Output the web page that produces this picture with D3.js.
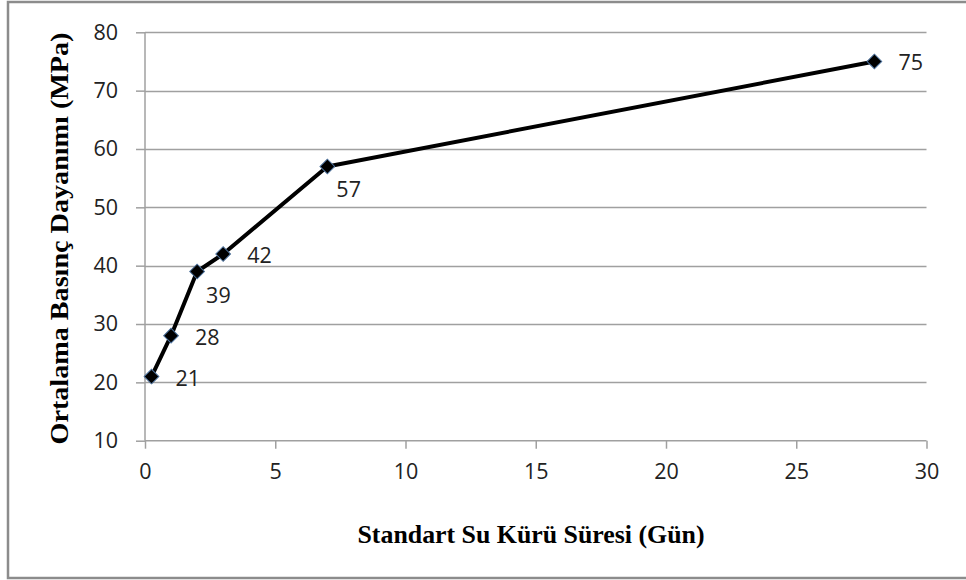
<!DOCTYPE html>
<html>
<head>
<meta charset="utf-8">
<script src="https://cdn.jsdelivr.net/npm/d3@7"></script>
<style>
  html, body { margin: 0; padding: 0; background: #fff; }
  svg { display: block; }
</style>
</head>
<body>
<svg id="chart" width="966" height="580"></svg>
<script>
// Curing time (days) and mean compressive strength (MPa)
const curingDays = [0.25, 1, 2, 3, 7, 28];
const strengthMPa = [21, 28, 39, 42, 57, 75];
const xTicks = [0, 5, 10, 15, 20, 25, 30];
const yTicks = [10, 20, 30, 40, 50, 60, 70, 80];
const xTitle = "Standart Su Kürü Süresi (Gün)";
const yTitle = "Ortalama Basınç Dayanımı (MPa)";

// value label placement: "right" or "below" (below-right)
const labelPlacement = ["right", "right", "below", "right", "below", "right"];

const svg = d3.select("#chart");
const W = 966, H = 580;

// outer frame
svg.append("rect")
  .attr("x", 8).attr("y", 2)
  .attr("width", W).attr("height", 576)
  .attr("fill", "#fff")
  .attr("stroke", "#8c8c8c")
  .attr("stroke-width", 2.5);

const plot = { left: 145, right: 926.5, top: 32.3, bottom: 440.7 };

const x = d3.scaleLinear().domain([0, 30]).range([plot.left, plot.right]);
const y = d3.scaleLinear().domain([10, 80]).range([plot.bottom, plot.top]);

const tickFont = "'Open Sans', 'Liberation Sans', sans-serif";
const titleFont = "'Liberation Serif', 'DejaVu Serif', serif";
const tickSize = 21.5;

// horizontal gridlines
svg.append("g")
  .selectAll("line")
  .data(yTicks.filter(v => v > 10))
  .join("line")
  .attr("x1", plot.left).attr("x2", plot.right)
  .attr("y1", d => Math.round(y(d)) + 0.5).attr("y2", d => Math.round(y(d)) + 0.5)
  .attr("stroke", "#a0a0a0")
  .attr("stroke-width", 1.3);

// y axis
const yAxis = svg.append("g")
  .attr("transform", `translate(${plot.left},0)`)
  .call(d3.axisLeft(y).tickValues(yTicks).tickSize(9).tickPadding(18));
yAxis.select(".domain").attr("stroke", "#a0a0a0").attr("stroke-width", 1.5)
  .attr("d", `M0,${plot.top}V${plot.bottom}`);
yAxis.selectAll(".tick line").attr("stroke", "#a0a0a0").attr("stroke-width", 1.5);
yAxis.selectAll(".tick text")
  .attr("font-family", tickFont).attr("font-size", tickSize).attr("fill", "#222");

// x axis
const xAxis = svg.append("g")
  .attr("transform", `translate(0,${plot.bottom})`)
  .call(d3.axisBottom(x).tickValues(xTicks).tickSize(8).tickPadding(15));
xAxis.select(".domain").attr("stroke", "#a0a0a0").attr("stroke-width", 1.5)
  .attr("d", `M${plot.left},0H${plot.right}`);
xAxis.selectAll(".tick line").attr("stroke", "#a0a0a0").attr("stroke-width", 1.5);
xAxis.selectAll(".tick text")
  .attr("font-family", tickFont).attr("font-size", tickSize).attr("fill", "#222");

const pts = curingDays.map((d, i) => ({ d, v: strengthMPa[i], place: labelPlacement[i] }));

// data line
svg.append("path")
  .datum(pts)
  .attr("fill", "none")
  .attr("stroke", "#000")
  .attr("stroke-width", 4)
  .attr("stroke-linejoin", "round")
  .attr("d", d3.line().x(p => x(p.d)).y(p => y(p.v)));

// diamond markers
svg.append("g")
  .selectAll("path")
  .data(pts)
  .join("path")
  .attr("transform", p => `translate(${x(p.d)},${y(p.v)}) rotate(45)`)
  .attr("d", "M-5.2,-5.2H5.2V5.2H-5.2Z")
  .attr("fill", "#000")
  .attr("stroke", "#4a6f9a")
  .attr("stroke-width", 1);

// value labels
svg.append("g")
  .selectAll("text")
  .data(pts)
  .join("text")
  .attr("x", p => x(p.d) + (p.place === "right" ? 24 : 9))
  .attr("y", p => y(p.v) + (p.place === "right" ? 9 : 31))
  .attr("font-family", tickFont)
  .attr("font-size", tickSize)
  .attr("fill", "#222")
  .text(p => p.v);

// axis titles
svg.append("text")
  .attr("x", 531).attr("y", 543)
  .attr("text-anchor", "middle")
  .attr("font-family", titleFont)
  .attr("font-weight", "bold")
  .attr("font-size", 25)
  .attr("textLength", 347)
  .attr("lengthAdjust", "spacingAndGlyphs")
  .attr("fill", "#000")
  .text(xTitle);

svg.append("text")
  .attr("transform", "translate(68,238.5) rotate(-90)")
  .attr("text-anchor", "middle")
  .attr("font-family", titleFont)
  .attr("font-weight", "bold")
  .attr("font-size", 25)
  .attr("textLength", 412)
  .attr("lengthAdjust", "spacingAndGlyphs")
  .attr("fill", "#000")
  .text(yTitle);
</script>
</body>
</html>
